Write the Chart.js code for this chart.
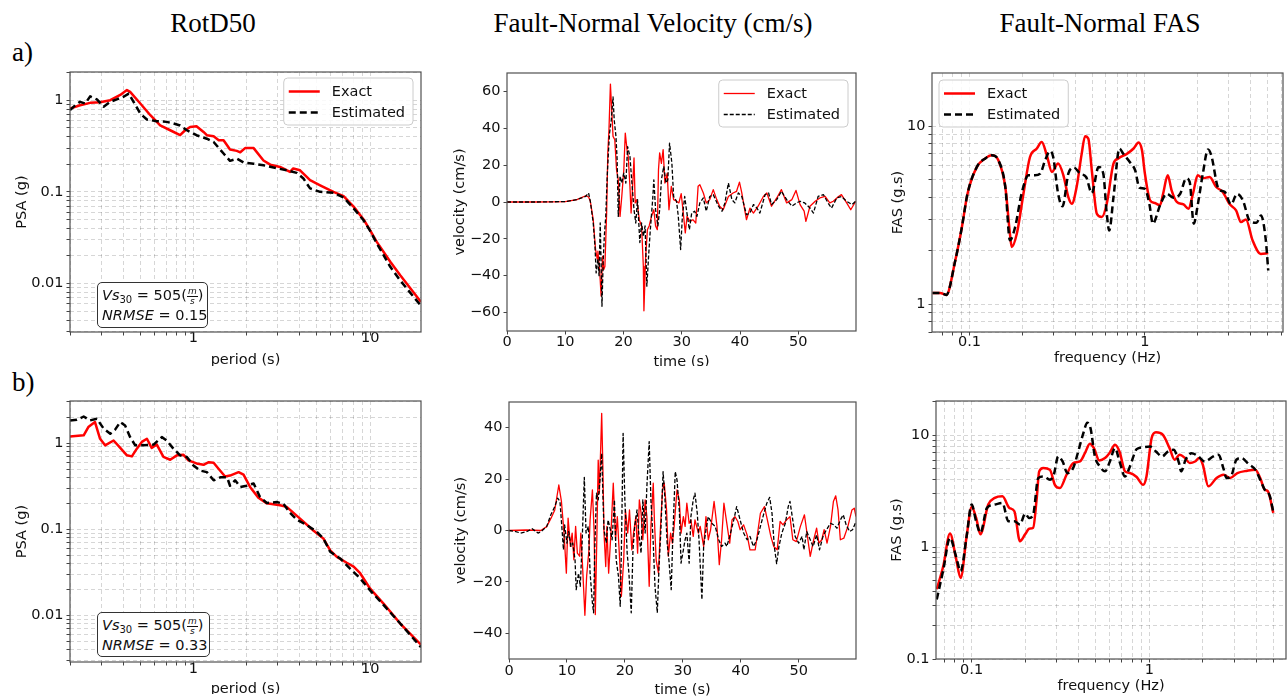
<!DOCTYPE html>
<html>
<head>
<meta charset="utf-8">
<title>RotD50 / Fault-Normal Velocity / Fault-Normal FAS</title>
<script src="https://cdn.jsdelivr.net/npm/chart.js@4.4.1/dist/chart.umd.min.js"></script>
<style>
  html, body { margin: 0; padding: 0; background: #fff; }
  body { position: relative; width: 1288px; height: 700px; overflow: hidden; }
  canvas { position: absolute; }
  .head { position: absolute; top: 10px; font: 27px/27px "Liberation Serif", serif; color: #000; white-space: nowrap; transform: translateX(-50%); }
  .tag { position: absolute; left: 12px; font: 27px/27px "Liberation Serif", serif; color: #000; }
  .note { position: absolute; box-sizing: border-box; border: 1px solid #333; border-radius: 5px; background: #fff;
          padding: 2px 0 0 4px; font: 14.5px "DejaVu Sans", sans-serif; color: #111; z-index: 2; }
  .note .ln { height: 20px; line-height: 20px; white-space: nowrap; }
  .note sub { font-size: 10px; line-height: 0; vertical-align: -3px; }
  .frac { display: inline-block; vertical-align: -4px; font-size: 9px; line-height: 9px; text-align: center; }
  .frac i { display: block; padding: 0 1px; }
  .frac .n { border-bottom: 1px solid #111; }
</style>
</head>
<body>
<div class="head" style="left:213px">RotD50</div>
<div class="head" style="left:653px">Fault-Normal Velocity (cm/s)</div>
<div class="head" style="left:1100px">Fault-Normal FAS</div>
<div class="tag" style="top:39px">a)</div>
<div class="tag" style="top:369px">b)</div>

<canvas id="psaTop"></canvas>
<canvas id="velTop"></canvas>
<canvas id="fasTop"></canvas>
<canvas id="psaBot"></canvas>
<canvas id="velBot"></canvas>
<canvas id="fasBot"></canvas>

<div class="note" style="left:97px;top:282px;width:111px;height:46px">
  <div class="ln"><i>Vs</i><sub>30</sub> = 505(<span class="frac"><i class="n">m</i><i>s</i></span>)</div>
  <div class="ln"><i>NRMSE</i> = 0.15</div>
</div>
<div class="note" style="left:97px;top:612px;width:113px;height:45px">
  <div class="ln"><i>Vs</i><sub>30</sub> = 505(<span class="frac"><i class="n">m</i><i>s</i></span>)</div>
  <div class="ln"><i>NRMSE</i> = 0.33</div>
</div>

<script>
// ---------- values ----------

// a) RotD50 (period s -> PSA g)
const psaTopExactT = [0.2, 0.228, 0.26, 0.296, 0.338, 0.385, 0.42, 0.438, 0.5, 0.57,
  0.648, 0.738, 0.84, 0.897, 0.957, 1.04, 1.14, 1.19, 1.30, 1.39,
  1.48, 1.61, 1.76, 1.84, 1.96, 2.19, 2.49, 2.72, 3.09, 3.52,
  3.67, 4.01, 4.57, 5.21, 6.2, 7.07, 8.06, 9.18, 10, 10.9,
  13.0, 14.8, 19.4];
const psaTopExact = [0.81, 0.88, 0.935, 0.95, 1.0, 1.14, 1.29, 1.23, 0.92, 0.686,
  0.53, 0.47, 0.415, 0.47, 0.51, 0.52, 0.45, 0.415, 0.405, 0.366,
  0.366, 0.29, 0.28, 0.27, 0.30, 0.30, 0.22, 0.198, 0.187, 0.165,
  0.18, 0.172, 0.134, 0.118, 0.1, 0.09, 0.069, 0.050, 0.038, 0.0285,
  0.0173, 0.0123, 0.0063];
const psaTopEstT = [0.2, 0.214, 0.228, 0.244, 0.26, 0.284, 0.31, 0.338, 0.368, 0.402,
  0.43, 0.458, 0.5, 0.545, 0.62, 0.706, 0.77, 0.84, 0.917, 1.04,
  1.19, 1.30, 1.48, 1.61, 1.76, 1.92, 2.19, 2.49, 2.84, 3.37,
  3.84, 4.19, 4.57, 5.21, 6.2, 7.07, 8.06, 9.18, 10, 10.9,
  13.0, 14.8, 19.4];
const psaTopEst = [0.78, 0.88, 0.96, 0.92, 1.1, 1.02, 0.85, 0.96, 1.02, 1.09,
  1.18, 0.96, 0.715, 0.615, 0.59, 0.58, 0.557, 0.53, 0.47, 0.415,
  0.38, 0.35, 0.262, 0.218, 0.23, 0.209, 0.203, 0.195, 0.184, 0.172,
  0.161, 0.14, 0.109, 0.1, 0.098, 0.087, 0.066, 0.049, 0.0375, 0.0274,
  0.0152, 0.0108, 0.0057];

// b) RotD50
const psaBotExactT = [0.2, 0.239, 0.254, 0.277, 0.296, 0.316, 0.353, 0.385, 0.42, 0.448,
  0.478, 0.51, 0.545, 0.58, 0.62, 0.676, 0.738, 0.805, 0.878, 0.937,
  1.04, 1.14, 1.22, 1.3, 1.39, 1.51, 1.61, 1.8, 1.92, 2.09,
  2.33, 2.6, 3.09, 3.37, 4.01, 4.77, 5.44, 5.94, 6.48, 7.37,
  8.06, 8.78, 10, 11.9, 14.8, 19.4];
const psaBotExact = [1.19, 1.23, 1.53, 1.75, 1.12, 0.94, 1.07, 0.88, 0.72, 0.70,
  0.86, 1.03, 1.12, 0.88, 0.96, 0.69, 0.64, 0.72, 0.73, 0.63,
  0.58, 0.56, 0.60, 0.59, 0.50, 0.41, 0.42, 0.46, 0.43, 0.31,
  0.233, 0.20, 0.19, 0.182, 0.133, 0.097, 0.078, 0.057, 0.048, 0.041,
  0.037, 0.031, 0.0205, 0.0138, 0.0081, 0.0046];
const psaBotEstT = [0.2, 0.219, 0.239, 0.26, 0.284, 0.31, 0.338, 0.36, 0.385, 0.41,
  0.438, 0.468, 0.52, 0.594, 0.662, 0.706, 0.77, 0.84, 0.917, 1.0,
  1.09, 1.19, 1.3, 1.42, 1.55, 1.61, 1.72, 1.84, 2.0, 2.19,
  2.38, 2.6, 2.96, 3.23, 3.52, 3.84, 4.37, 4.98, 5.44, 5.94,
  6.76, 7.7, 8.78, 10, 11.9, 14.8, 19.4];
const psaBotEst = [1.83, 1.86, 2.03, 1.83, 1.91, 1.47, 1.28, 1.43, 1.75, 1.6,
  1.17, 0.94, 0.94, 0.96, 1.17, 1.07, 0.86, 0.72, 0.69, 0.55,
  0.48, 0.46, 0.37, 0.40, 0.40, 0.32, 0.37, 0.31, 0.32, 0.34,
  0.237, 0.202, 0.207, 0.198, 0.155, 0.13, 0.112, 0.094, 0.078, 0.055,
  0.046, 0.035, 0.027, 0.0196, 0.0133, 0.0081, 0.0043];

// a) fault-normal velocity (time s -> cm/s)
const velTopExactT = [0, 5, 10, 12, 13.5, 14, 14.3, 14.8, 15.2, 15.5,
  15.6, 15.9, 16.15, 16.4, 16.6, 16.8, 17.1, 17.3, 17.5, 17.75,
  18.0, 18.2, 18.5, 18.8, 19.1, 19.4, 19.7, 20.05, 20.3, 20.6,
  20.8, 21.1, 21.3, 21.5, 21.8, 22.0, 22.3, 22.7, 23.1, 23.4,
  23.5, 23.8, 24.1, 24.4, 24.8, 25.2, 25.5, 25.8, 26.0, 26.2,
  26.5, 26.8, 27.1, 27.5, 27.8, 28.2, 28.6, 29.1, 29.5, 29.9,
  30.2, 30.6, 30.9, 31.4, 31.9, 32.4, 32.8, 33.1, 33.7, 34.2,
  34.8, 35.4, 36.0, 36.5, 37.1, 38.0, 38.8, 39.4, 39.9, 40.3,
  40.9, 41.1, 41.7, 42.3, 43.1, 44.0, 44.6, 45.4, 46.3, 47.1,
  48.0, 48.9, 49.6, 50.3, 51.0, 51.3, 52.0, 52.9, 53.7, 54.6,
  55.4, 56.0, 56.9, 57.4, 58.3, 59.0, 59.85];
const velTopExact = [0, 0, 0.2, 1.3, 3.4, 2.7, 0.4, -9.6, -25.8, -31,
  -26.7, -36.7, -51, -29.5, -36.7, -35, -6, 26.6, 39, 64,
  48, 35.6, 33.8, 17.5, 12, -7.8, 3, 17.5, 37.4, 28.4,
  24.8, 8.5, -6, 4.9, 23.9, -0.5, 1.3, -9.6, -13, -35,
  -59, -29.5, -15, -13, -7.8, -4.2, -13, -15, 17.5, 26.6,
  21, 28.4, 10.3, 15.7, -4.2, 8.5, 1.3, 0.4, -0.5, 4.5,
  -4.2, -16.8, -7.8, -10.5, -9.6, -11.4, 8.5, 9.4, 4.9, -0.5,
  1.3, 6.7, 1.3, -2.3, -4.2, 3, 4.9, 5.8, 10.8, 4.9,
  -6, -9.6, -3.3, -6, -2.3, 3, 4.9, -2.3, 2.2, 6.7,
  -0.5, 1.3, 6.3, -1.4, -5, -10.5, -2.3, 0.4, 2.2, 3,
  -0.5, 0.4, 3, 4, -0.5, -4.2, 0.4];
const velTopEstT = [0, 5, 10, 12, 13.5, 14, 14.3, 14.8, 15.1, 15.3,
  15.6, 15.8, 16.0, 16.15, 16.3, 16.5, 16.7, 16.95, 17.2, 17.4,
  17.6, 17.9, 18.2, 18.4, 18.7, 18.9, 19.1, 19.4, 19.7, 20.05,
  20.4, 20.7, 21.1, 21.4, 21.8, 22.1, 22.4, 22.8, 23.1, 23.4,
  23.7, 24.0, 24.3, 24.6, 25.0, 25.2, 25.5, 25.9, 26.2, 26.5,
  26.9, 27.3, 27.6, 27.9, 28.3, 28.6, 29.1, 29.4, 29.8, 30.1,
  30.5, 30.8, 31.3, 31.7, 32.2, 32.6, 33.1, 33.7, 34.2, 34.8,
  35.4, 36.3, 36.9, 37.4, 38.0, 38.6, 39.1, 39.7, 40.3, 41.1,
  41.7, 42.3, 42.9, 43.4, 44.3, 44.9, 45.4, 46.3, 47.1, 48.0,
  48.9, 49.7, 50.3, 51.1, 52.0, 52.6, 53.4, 54.3, 55.1, 55.7,
  56.6, 57.4, 58.3, 59.2, 59.85];
const velTopEst = [0, 0, 0.2, 1.3, 3, 4.9, 0.4, -11.4, -24, -38.5,
  -31, -40, -11.4, -33, -56.6, -33, -18.6, -7.8, 14, 26.6,
  37.4, 44.6, 57, 44.6, 35.6, 23, -7.8, 14, 10.3, 15.7,
  10.3, 30, 24.8, 12, -4.2, -11.4, 1.3, -22, -11.4, -18.6,
  -13, -45.7, -29.5, -15, 1.3, 12, -4.2, -13, -4.2, 12,
  19.3, 10.3, 12, 32, 21, 3, 0.4, -7.8, -25.8, -7.8,
  3, -4.2, -15, -6, -5, -7.8, -0.5, 2.2, -5, 3,
  4, -2.3, -5, -0.5, 10.3, 1.3, -0.5, 4.9, 3, -6.9,
  -6, -1.4, -3.3, -6, 4, 4.9, -1.4, 1.3, 5.8, 1.3,
  -2.3, -0.5, 0.4, -0.5, -3.3, -6, 3, 4, -0.5, -3.3,
  2.2, 3, 0.4, -1.4, 0.4];

// b) fault-normal velocity
const velBotExactT = [0, 3, 5.5, 6.5, 7.3, 7.9, 8.6, 9.05, 9.5, 9.9,
  10.2, 10.6, 10.9, 11.2, 11.5, 11.8, 12.2, 12.4, 12.7, 13.1,
  13.4, 13.8, 14.0, 14.4, 14.7, 14.9, 15.2, 15.4, 15.6, 16.0,
  16.2, 16.4, 16.7, 16.9, 17.2, 17.6, 18.0, 18.4, 18.7, 19.1,
  19.4, 19.8, 20.1, 20.5, 20.8, 21.2, 21.5, 21.9, 22.2, 22.5,
  22.8, 23.1, 23.5, 23.8, 24.2, 24.5, 24.9, 25.1, 25.4, 25.8,
  26.1, 26.5, 26.8, 27.2, 27.5, 27.9, 28.2, 28.5, 29.0, 29.4,
  29.7, 30.1, 30.4, 30.7, 31.1, 31.4, 31.8, 32.1, 32.7, 33.0,
  33.6, 34.0, 34.4, 34.8, 35.4, 35.9, 36.3, 36.7, 37.1, 37.6,
  38.1, 38.5, 39.0, 39.5, 39.9, 40.5, 41.1, 41.6, 42.5, 43.4,
  44.1, 44.6, 45.2, 45.7, 46.3, 46.8, 47.3, 47.9, 48.5, 49.0,
  49.6, 50.3, 51.0, 51.6, 52.0, 52.6, 53.1, 53.5, 54.0, 54.4,
  54.9, 55.5, 56.0, 56.4, 56.8, 57.2, 57.8, 58.5, 59.2, 59.6,
  59.9];
const velBotExact = [0, 0.2, 0, 1.5, 5, 8, 17.7, 11.3, -1, -16.6,
  4.8, -6.2, -1, -11.4, 1.6, -8.8, -10, -1, -14, -33,
  -17.9, -7.5, 4.1, 15.8, -1, -32.7, 1.6, 27.4, 14.5, 45.6,
  24.9, -1, -14, 1.6, -16.6, -1, 18.4, -3.6, 5.4, -11.4,
  -25.6, -11.4, 8, -1, 8, -7.5, -1, 5.4, -8.8, 11.9,
  6.7, -3.6, 11.9, 5.4, -21.7, 1.6, 18.4, 4.1, -11.4, -16.6,
  -1, 15.8, 18.4, 8, -10, -1, -4.9, 1.6, 15.8, 11.9,
  -1, 5.4, 1.6, 10.6, 2.8, 4.1, -2.3, 4.1, -1, 1.6,
  -6.2, 5.4, -3.6, 0.3, 11.3, 1.6, -13.3, -3.6, 10.6, 2.8,
  -4.9, 4.1, 5.4, 3.5, 0.3, 2.2, -1.7, -7.5, -7.5, 6.7,
  9.3, 4.1, -2.3, -6.2, -7.5, 3.5, 2.2, 4.1, 5.4, -3.6,
  -4.3, 1.6, 6.1, -3.6, -10.1, -3.6, 0.9, -4.9, -3.6, 0.3,
  -4.9, 1.6, 11.3, 13.5, 8, -3.6, -3, 1.6, 8, 8.7,
  5.4];
const velBotEstT = [0, 1, 2, 3, 4, 5, 5.5, 6.5, 7.2, 7.9,
  8.4, 8.8, 9.2, 9.4, 9.6, 10.0, 10.3, 10.7, 11.0, 11.4,
  11.6, 12.0, 12.3, 12.6, 13.0, 13.3, 13.7, 14.0, 14.4, 14.6,
  14.8, 15.1, 15.4, 15.7, 16.0, 16.2, 16.4, 16.8, 17.1, 17.5,
  17.8, 18.2, 18.5, 18.9, 19.2, 19.4, 19.7, 20.0, 20.4, 20.7,
  21.1, 21.4, 21.7, 22.1, 22.4, 22.8, 23.1, 23.5, 23.8, 24.2,
  24.5, 24.9, 25.2, 25.6, 25.9, 26.2, 26.6, 26.9, 27.3, 27.6,
  28.0, 28.3, 28.7, 29.0, 29.4, 29.7, 30.1, 30.4, 30.7, 31.1,
  31.4, 31.8, 32.1, 32.5, 32.8, 33.3, 33.6, 34.0, 34.4, 35.0,
  35.6, 36.2, 36.7, 37.3, 37.6, 38.1, 38.8, 39.3, 39.9, 40.5,
  41.1, 41.6, 42.2, 42.8, 43.4, 44.0, 44.5, 45.0, 45.4, 45.8,
  46.2, 46.6, 47.1, 47.7, 48.2, 48.5, 48.9, 49.4, 50.0, 50.6,
  50.9, 51.4, 52.0, 52.5, 53.1, 53.6, 54.2, 54.8, 55.5, 56.1,
  56.6, 57.2, 57.7, 58.2, 58.8, 59.3, 59.9];
const velBotEst = [0, -0.3, -1, -0.5, 0.7, -1, -0.5, 1.5, 6, 9.3,
  12.6, 11.3, -1, -7.5, 2.2, -4.9, -0.4, -6.2, -4.9, -11.4,
  -23, -16.6, -21.7, -6.2, 20.7, -1, 1.6, -16.6, -28.2, -32,
  -7.5, 14.5, 11.9, 19.7, 30, 14.5, 0.3, -4.9, 4.1, 0.3,
  -3.6, 11.9, -11.4, -17.9, -29.5, -7.5, 37.8, 11.9, -8.8, -16.6,
  -32, -7.5, 1.6, 8, -1, -8.8, 11.9, -1, 17, 34.6,
  11.9, -4.9, -21.7, -32, -14, -1, 22.9, 13.2, -4.9, -11.4,
  -23, -1, 22.9, 19.7, 8, -12.7, -7.5, -3.6, -1, -12.7,
  5.4, 11.9, 14.5, 6.7, -3.6, -26.9, -6.2, 0.3, 5.4, 2.8,
  1.6, -3.6, -6.2, -4.9, -6.2, -2.3, 4.1, 9.3, 4.1, -1,
  -3.6, -2.3, -6.2, -3.6, 1.6, 6.7, 10.6, 12.9, 6.7, -6.2,
  -12.9, -6.2, -1, 2.8, 9.3, 11.3, 5.4, -2.3, -4.9, -2.3,
  -7.5, -0.4, -3.6, -6.2, -1.7, -7.5, -2.3, 0.3, 2.8, 2.2,
  0.9, 4.1, 6.1, 2.2, -0.4, 0.3, 3.5];

// a) fault-normal FAS (frequency Hz -> g.s)
const fasTopExactF = [0.0615, 0.068, 0.0737, 0.083, 0.0905, 0.0974, 0.11, 0.123, 0.134, 0.146,
  0.16, 0.17, 0.174, 0.186, 0.203, 0.221, 0.242, 0.258, 0.276, 0.295,
  0.32, 0.343, 0.366, 0.383, 0.408, 0.436, 0.456, 0.476, 0.498, 0.532,
  0.568, 0.606, 0.662, 0.706, 0.789, 0.862, 0.92, 0.962, 1.0, 1.07,
  1.14, 1.22, 1.27, 1.35, 1.42, 1.52, 1.66, 1.77, 1.88, 2.0,
  2.14, 2.34, 2.55, 2.78, 3.03, 3.31, 3.53, 3.77, 4.11, 4.58,
  5.05];
const fasTopExact = [1.16, 1.16, 1.13, 1.77, 2.72, 4.18, 5.9, 6.6, 6.87, 6.45,
  4.56, 2.49, 2.1, 2.49, 4.18, 6.7, 7.5, 8.15, 6.87, 5.54,
  6.17, 5.3, 4.0, 3.67, 4.56, 7.0, 8.8, 8.5, 5.66, 3.23,
  3.09, 3.67, 6.17, 6.6, 7.0, 7.5, 8.1, 7.35, 5.42, 3.84,
  3.71, 3.6, 4.18, 5.3, 4.37, 3.76, 3.64, 3.44, 4.18, 5.3,
  5.1, 5.19, 4.56, 4.28, 3.67, 3.37, 2.9, 3.0, 2.29, 1.92,
  1.94];
const fasTopEstF = [0.0615, 0.068, 0.0737, 0.083, 0.0905, 0.0974, 0.11, 0.123, 0.134, 0.146,
  0.16, 0.17, 0.182, 0.198, 0.217, 0.236, 0.253, 0.27, 0.288, 0.3,
  0.32, 0.339, 0.366, 0.394, 0.427, 0.462, 0.498, 0.544, 0.579, 0.606,
  0.626, 0.662, 0.716, 0.753, 0.82, 0.88, 0.93, 1.0, 1.06, 1.11,
  1.22, 1.33, 1.46, 1.59, 1.72, 1.8, 1.9, 2.0, 2.14, 2.29,
  2.39, 2.63, 2.85, 3.1, 3.35, 3.62, 3.95, 4.33, 4.59, 4.88,
  5.05];
const fasTopEst = [1.16, 1.16, 1.13, 1.77, 2.72, 4.18, 5.9, 6.6, 6.87, 6.45,
  4.56, 2.29, 2.72, 4.18, 5.3, 5.3, 5.42, 6.45, 7.25, 6.72,
  4.18, 3.55, 5.42, 5.86, 5.42, 5.19, 4.22, 5.9, 5.42, 3.23,
  2.6, 4.0, 7.5, 7.0, 6.3, 5.66, 4.52, 4.45, 3.67, 2.84,
  3.6, 4.18, 3.97, 4.18, 5.1, 4.87, 2.84, 3.6, 5.42, 7.4,
  6.87, 4.45, 4.28, 3.64, 4.18, 3.84, 2.96, 2.87, 3.16, 2.34,
  1.55];

// b) fault-normal FAS
const fasBotExactF = [0.0636, 0.0693, 0.0755, 0.0816, 0.0867, 0.0937, 0.1, 0.106, 0.112, 0.124,
  0.135, 0.149, 0.163, 0.174, 0.187, 0.2, 0.211, 0.222, 0.232, 0.24,
  0.253, 0.276, 0.294, 0.314, 0.342, 0.373, 0.407, 0.434, 0.463, 0.488,
  0.523, 0.563, 0.6, 0.641, 0.68, 0.73, 0.778, 0.849, 0.923, 0.964,
  1.03, 1.09, 1.19, 1.3, 1.39, 1.48, 1.59, 1.69, 1.81, 1.91,
  2.0, 2.15, 2.39, 2.62, 2.85, 3.13, 3.56, 3.95, 4.21, 4.46,
  4.65, 4.99];
const fasBotExact = [0.42, 0.68, 1.32, 0.80, 0.53, 1.25, 2.28, 1.82, 1.30, 2.4,
  2.75, 2.84, 2.24, 2.09, 1.13, 1.30, 1.46, 1.49, 2.65, 4.75,
  5.1, 4.9, 3.6, 3.37, 4.43, 5.63, 5.82, 6.9, 8.4, 7.66,
  5.95, 6.24, 7.0, 8.2, 7.1, 4.75, 4.6, 4.23, 3.6, 4.28,
  9.4, 10.6, 10.1, 7.66, 6.03, 6.7, 6.24, 5.63, 5.82, 6.24,
  5.45, 3.49, 4.14, 4.43, 4.14, 4.58, 4.81, 4.92, 4.14, 3.26,
  3.15, 2.02];
const fasBotEstF = [0.0636, 0.0693, 0.0755, 0.0816, 0.0867, 0.0937, 0.1, 0.106, 0.112, 0.122,
  0.135, 0.149, 0.161, 0.174, 0.187, 0.2, 0.211, 0.222, 0.237, 0.253,
  0.276, 0.29, 0.307, 0.325, 0.346, 0.373, 0.398, 0.425, 0.448, 0.467,
  0.494, 0.527, 0.563, 0.6, 0.641, 0.68, 0.73, 0.778, 0.849, 0.923,
  1.01, 1.09, 1.18, 1.27, 1.37, 1.47, 1.51, 1.6, 1.73, 1.89,
  2.05, 2.29, 2.45, 2.62, 2.72, 2.91, 3.09, 3.3, 3.61, 3.95,
  4.21, 4.46, 4.77, 4.99];
const fasBotEst = [0.34, 0.63, 1.21, 0.83, 0.61, 1.25, 2.4, 1.70, 1.34, 2.24,
  2.4, 2.48, 1.70, 1.70, 1.59, 1.99, 1.82, 1.95, 4.14, 4.28,
  4.0, 4.43, 6.45, 5.82, 4.58, 5.1, 7.14, 10.4, 12.9, 11.5,
  6.45, 5.26, 4.75, 5.82, 7.66, 5.82, 4.28, 5.26, 7.5, 7.8,
  7.93, 7.14, 6.45, 7.14, 7.4, 5.63, 4.75, 6.03, 6.9, 6.45,
  5.82, 6.45, 6.7, 4.98, 4.14, 4.43, 6.03, 6.24, 5.55, 4.92,
  4.0, 3.26, 2.85, 2.05];

// tick labels
const psaTicks = [0.01, 0.1, 1];
const periodTicks = [1, 10];
const velTopTicks = [-60, -40, -20, 0, 20, 40, 60];
const velBotTicks = [-40, -20, 0, 20, 40];
const timeTicks = [0, 10, 20, 30, 40, 50];
const fasTopTicks = [1, 10];
const fasBotTicks = [0.1, 1, 10];
const freqTicks = [0.1, 1];

// ---------- drawing ----------
const FONT = { family: 'DejaVu Sans', size: 14.5 };
const LINE_H = FONT.size * 1.2;
const Y_BOX = 70;   // width given to every y axis (labels + title)

const pts = (xs, ys) => xs.map((x, i) => ({ x, y: ys[i] }));

// 1..9 x 10^n positions inside the range, for log grid lines
function logMarks(min, max) {
  const out = [];
  for (let e = Math.floor(Math.log10(min)); e <= Math.ceil(Math.log10(max)); e++) {
    for (let k = 1; k < 10; k++) {
      const v = Number((k * Math.pow(10, e)).toPrecision(6));
      if (v >= min && v <= max) out.push(v);
    }
  }
  return out;
}

const fmt = v => (v < 0 ? '\u2212' + (-v) : String(v));

function axis(type, min, max, labels, withGrid, title, pad, tickPad, fit) {
  const marks = type === 'logarithmic' ? logMarks(min, max) : labels;
  return {
    type, min, max,
    afterBuildTicks: s => { s.ticks = marks.map(v => ({ value: v })); },
    afterFit: fit,
    ticks: {
      autoSkip: false, maxRotation: 0, minRotation: 0, padding: tickPad, color: '#111', font: FONT,
      callback: v => (labels.includes(v) ? fmt(v) : '')
    },
    grid: {
      drawOnChartArea: withGrid, color: 'rgba(0,0,0,0.16)', lineWidth: 1,
      drawTicks: true, tickLength: 3.5, tickColor: '#444', tickWidth: 1
    },
    border: { display: false, dash: [4, 3] },
    title: { display: true, text: title, color: '#111', font: FONT, padding: pad }
  };
}

function exact(xs, ys, w, smooth) {
  return {
    label: 'Exact', data: pts(xs, ys), borderColor: '#ff0000', borderWidth: w, order: 2,
    pointRadius: 0, tension: 0, cubicInterpolationMode: smooth ? 'monotone' : 'default', borderJoinStyle: 'round'
  };
}
function estimated(xs, ys, w, dash, smooth) {
  return {
    label: 'Estimated', data: pts(xs, ys), borderColor: '#000', borderWidth: w, borderDash: dash, order: 1,
    pointRadius: 0, tension: 0, cubicInterpolationMode: smooth ? 'monotone' : 'default', borderJoinStyle: 'round'
  };
}

// box round the plot area
const frame = {
  id: 'frame',
  afterDatasetsDraw(chart) {
    const { ctx, chartArea: a } = chart;
    ctx.save();
    ctx.strokeStyle = '#505050';
    ctx.lineWidth = 1.2;
    ctx.strokeRect(a.left, a.top, a.right - a.left, a.bottom - a.top);
    ctx.restore();
  }
};

// matplotlib-like legend inside the axes
const boxLegend = {
  id: 'boxLegend',
  afterDraw(chart, args, opts) {
    if (!opts.side) return;
    const { ctx, chartArea: a } = chart;
    const sets = chart.data.datasets;
    ctx.save();
    ctx.font = FONT.size + 'px "DejaVu Sans"';
    const textW = Math.max(...sets.map(d => ctx.measureText(d.label).width));
    const w = 48 + textW + 8, h = 47;
    const x = opts.side === 'right' ? a.right - opts.dx - w : a.left + opts.dx;
    const y = a.top + opts.dy;
    ctx.beginPath();
    ctx.roundRect(x, y, w, h, 4);
    ctx.fillStyle = 'rgba(255,255,255,0.85)';
    ctx.fill();
    ctx.strokeStyle = '#cccccc';
    ctx.lineWidth = 1;
    ctx.stroke();
    sets.forEach((d, i) => {
      const ry = y + 13.5 + i * 21;
      ctx.strokeStyle = d.borderColor;
      ctx.lineWidth = d.borderWidth;
      ctx.setLineDash(d.borderDash || []);
      ctx.beginPath();
      ctx.moveTo(x + 5, ry);
      ctx.lineTo(x + 36, ry);
      ctx.stroke();
      ctx.setLineDash([]);
      ctx.fillStyle = '#111';
      ctx.textBaseline = 'middle';
      ctx.fillText(d.label, x + 48, ry + 1);
    });
    ctx.restore();
  }
};

// box = [plot left, plot top, plot right, plot bottom, canvas bottom, right pad]
function panel(id, box, spec) {
  const [l, t, r, b, edge, pr] = box;
  const xh = edge - b;
  const w = Y_BOX + (r - l) + pr, h = 2 + (b - t) + xh;
  const cv = document.getElementById(id);
  cv.width = w;
  cv.height = h;
  cv.style.left = (l - Y_BOX) + 'px';
  cv.style.top = (t - 2) + 'px';
  cv.style.width = w + 'px';
  cv.style.height = h + 'px';
  return new Chart(cv, {
    type: 'line',
    data: { datasets: spec.datasets },
    options: {
      responsive: false,
      animation: false,
      events: [],
      layout: { padding: { top: 2, right: pr, bottom: 0, left: 0 } },
      plugins: { legend: { display: false }, tooltip: { enabled: false }, boxLegend: spec.legend || {} },
      scales: {
        x: axis(spec.xType, spec.xMin, spec.xMax, spec.xLabels, spec.grid, spec.xTitle,
          { top: 0, bottom: xh - LINE_H / 2 - spec.xOff }, spec.xTickOff - 15,
          s => { s.height = xh; s.paddingLeft = 0; s.paddingRight = 0; }),
        y: axis(spec.yType, spec.yMin, spec.yMax, spec.yLabels, spec.grid, spec.yTitle,
          { top: Y_BOX - LINE_H / 2 - spec.yOff, bottom: 0 }, 3,
          s => { s.width = Y_BOX; s.paddingTop = 0; s.paddingBottom = 0; })
      }
    },
    plugins: [frame, boxLegend]
  });
}

panel('psaTop', [70, 72, 421, 332, 366, 4], {
  datasets: [exact(psaTopExactT, psaTopExact, 2.5, false), estimated(psaTopEstT, psaTopEst, 2.5, [7, 4], false)],
  xType: 'logarithmic', xMin: 0.2, xMax: 19.4, xLabels: periodTicks, xTitle: 'period (s)', xOff: 28, xTickOff: 9,
  yType: 'logarithmic', yMin: 0.00296, yMax: 2.03, yLabels: psaTicks, yTitle: 'PSA (g)', yOff: 48,
  grid: true, legend: { side: 'right', dx: 8, dy: 6 }
});

panel('velTop', [507, 73, 856, 331, 366, 4], {
  datasets: [exact(velTopExactT, velTopExact, 1.3, false), estimated(velTopEstT, velTopEst, 1.3, [4, 2], false)],
  xType: 'linear', xMin: 0, xMax: 59.9, xLabels: timeTicks, xTitle: 'time (s)', xOff: 31, xTickOff: 14,
  yType: 'linear', yMin: -70, yMax: 70, yLabels: velTopTicks, yTitle: 'velocity (cm/s)', yOff: 47,
  grid: false, legend: { side: 'right', dx: 8, dy: 7 }
});

panel('fasTop', [932, 73, 1283, 332, 370, 4], {
  datasets: [exact(fasTopExactF, fasTopExact, 2.5, true), estimated(fasTopEstF, fasTopEst, 2.5, [7, 4], true)],
  xType: 'logarithmic', xMin: 0.0611, xMax: 6.13, xLabels: freqTicks, xTitle: 'frequency (Hz)', xOff: 26, xTickOff: 13,
  yType: 'logarithmic', yMin: 0.7, yMax: 19.9, yLabels: fasTopTicks, yTitle: 'FAS (g.s)', yOff: 34,
  grid: true, legend: { side: 'left', dx: 7, dy: 7 }
});

panel('psaBot', [70, 401, 421, 662, 694, 4], {
  datasets: [exact(psaBotExactT, psaBotExact, 2.5, false), estimated(psaBotEstT, psaBotEst, 2.5, [7, 4], false)],
  xType: 'logarithmic', xMin: 0.2, xMax: 19.4, xLabels: periodTicks, xTitle: 'period (s)', xOff: 27, xTickOff: 10,
  yType: 'logarithmic', yMin: 0.0029, yMax: 3.07, yLabels: psaTicks, yTitle: 'PSA (g)', yOff: 48,
  grid: true
});

panel('velBot', [509, 402, 856, 659, 697, 4], {
  datasets: [exact(velBotExactT, velBotExact, 1.3, false), estimated(velBotEstT, velBotEst, 1.3, [4, 2], false)],
  xType: 'linear', xMin: 0, xMax: 59.9, xLabels: timeTicks, xTitle: 'time (s)', xOff: 31, xTickOff: 15,
  yType: 'linear', yMin: -50, yMax: 50, yLabels: velBotTicks, yTitle: 'velocity (cm/s)', yOff: 47.6,
  grid: false
});

panel('fasBot', [936, 401, 1286, 659, 700, 2], {
  datasets: [exact(fasBotExactF, fasBotExact, 2.5, true), estimated(fasBotEstF, fasBotEst, 2.5, [7, 4], true)],
  xType: 'logarithmic', xMin: 0.063, xMax: 5.88, xLabels: freqTicks, xTitle: 'frequency (Hz)', xOff: 27, xTickOff: 14,
  yType: 'logarithmic', yMin: 0.1, yMax: 20.2, yLabels: fasBotTicks, yTitle: 'FAS (g.s)', yOff: 39,
  grid: true
});
</script>
</body>
</html>
